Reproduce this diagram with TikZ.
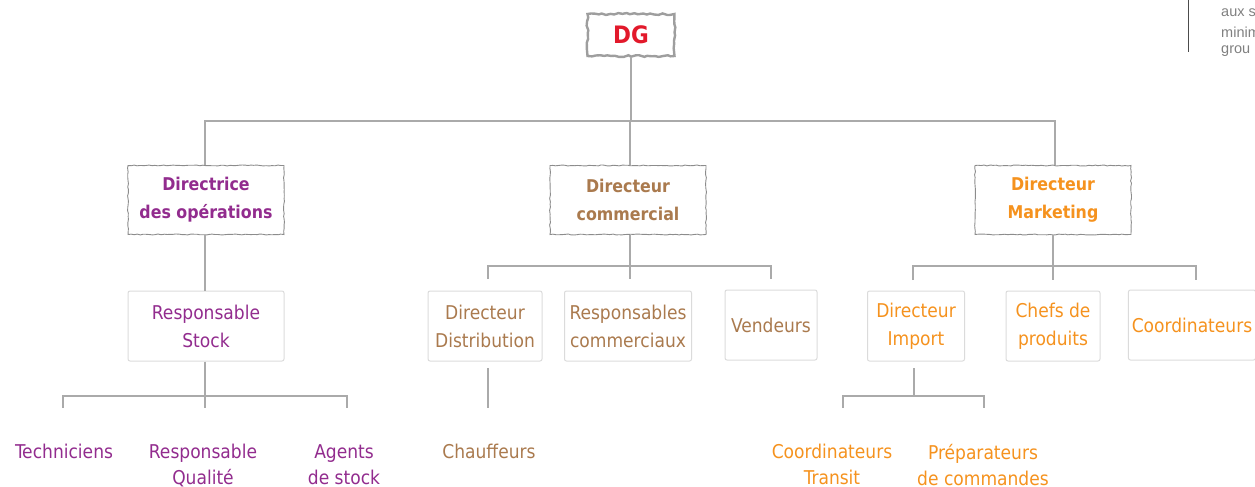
\documentclass[tikz,border=0pt]{standalone}
\usepackage{fontspec}
\setmainfont{DejaVu Sans Condensed}
\newfontfamily\arialf{Liberation Sans}
\usetikzlibrary{decorations.pathmorphing}
\definecolor{cpurple}{HTML}{922C8E}
\definecolor{cbrown}{HTML}{AA7A4E}
\definecolor{corange}{HTML}{F5921E}
\definecolor{cred}{HTML}{E2192B}
\definecolor{cline}{HTML}{AAAAAA}
\tikzset{
  conn/.style={draw=cline, line width=2pt},
  dgbox/.style={draw=black!38, line width=2.4pt, decorate, decoration={random steps, segment length=4pt, amplitude=1pt},
     minimum width=87, minimum height=42, font=\fontsize{24}{26}\selectfont\bfseries, text=cred},
  lonebox/.style={draw=black!45, line width=0.9pt, decorate, decoration={random steps, segment length=3pt, amplitude=0.5pt},
     minimum width=156, minimum height=69, align=center, font=\fontsize{17.6}{28}\selectfont\bfseries},
  ltwobox/.style={draw=black!14, line width=1pt, rounded corners=2pt,
     minimum height=70, align=center, font=\fontsize{19}{28}\selectfont},
  leaf/.style={anchor=north, align=center, inner sep=0pt, font=\fontsize{19}{26}\selectfont},
  frag/.style={anchor=west, inner sep=0pt, text=black!50, font=\arialf\fontsize{14.5}{19}\selectfont},
}
\begin{document}
\begin{tikzpicture}[x=1pt, y=-1pt]
\useasboundingbox (0,0) rectangle (1255,487);
% top right fragment
\draw[black!70, line width=0.8pt] (1188,0) -- (1188,52);
\node[frag] (frag1) at (1221,13) {aux s};
\node[frag] (frag2) at (1221,32) {minim};
\node[frag] (frag3) at (1221,51) {grou};

% nodes
\node[dgbox] (dg) at (631,35) {DG};
\node[lonebox, text=cpurple] (ops) at (206,200) {Directrice\\des opérations};
\node[lonebox, text=cbrown] (com) at (628,200) {Directeur\\commercial};
\node[lonebox, text=corange] (mkt) at (1053,200) {Directeur\\Marketing};

\node[ltwobox, minimum width=156, text=cpurple] (stock) at (206,326) {Responsable\\Stock};
\node[ltwobox, minimum width=114, text=cbrown] (dist) at (485,326) {Directeur\\Distribution};
\node[ltwobox, minimum width=127, text=cbrown] (rcom) at (628,326) {Responsables\\commerciaux};
\node[ltwobox, minimum width=92, text=cbrown] (vend) at (771,325) {Vendeurs};
\node[ltwobox, minimum width=97, text=corange] (imp) at (916,326) {Directeur\\Import};
\node[ltwobox, minimum width=94, text=corange] (chef) at (1053,326) {Chefs de\\produits};
\node[ltwobox, minimum width=126, text=corange] (coord) at (1192,325) {Coordinateurs};

\node[leaf, text=cpurple] (tech) at (64,444) {Techniciens};
\node[leaf, text=cpurple] (qual) at (203,444) {Responsable\\Qualité};
\node[leaf, text=cpurple] (agents) at (344,444) {Agents\\de stock};
\node[leaf, text=cbrown] (chauf) at (489,444) {Chauffeurs};
\node[leaf, text=corange] (transit) at (832,444) {Coordinateurs\\Transit};
\node[leaf, text=corange] (prep) at (983,444) {Préparateurs\\de commandes};

% connector end points
\coordinate (dgbar) at (631,121);
\coordinate (combar) at (630,266);
\coordinate (mktbar) at (1053,266);
\coordinate (stockbar) at (205,396);
\coordinate (impbar) at (914,396);
\coordinate (tTech) at (63,408);
\coordinate (tQual) at (205,408);
\coordinate (tAgents) at (347,408);
\coordinate (tChauf) at (488,408);
\coordinate (tTransit) at (843,408);
\coordinate (tPrep) at (984,408);
\coordinate (tDist) at (488,279);
\coordinate (tRcom) at (630,279);
\coordinate (tVend) at (771,279);
\coordinate (tImp) at (913,280);
\coordinate (tChef) at (1053,280);
\coordinate (tCoord) at (1196,280);

% connectors
\draw[conn] (dg.south) -- (dgbar);
\draw[conn] (ops.north -| 205,0) |- (dgbar) -| (mkt.north -| 1055,0);
\draw[conn] (dgbar) -| (com.north -| 630,0);

\draw[conn] (ops.south -| 205,0) -- (stock.north -| 205,0);

\draw[conn] (com.south -| 630,0) -- (tRcom);
\draw[conn] (tDist) |- (combar) -| (tVend);

\draw[conn] (mkt.south) -- (tChef);
\draw[conn] (tImp) |- (mktbar) -| (tCoord);

\draw[conn] (stock.south -| 205,0) -- (tQual);
\draw[conn] (tTech) |- (stockbar) -| (tAgents);

\draw[conn] (488,368) -- (tChauf);

\draw[conn] (914,368) -- (impbar);
\draw[conn] (tTransit) |- (impbar) -| (tPrep);
\end{tikzpicture}
\end{document}
